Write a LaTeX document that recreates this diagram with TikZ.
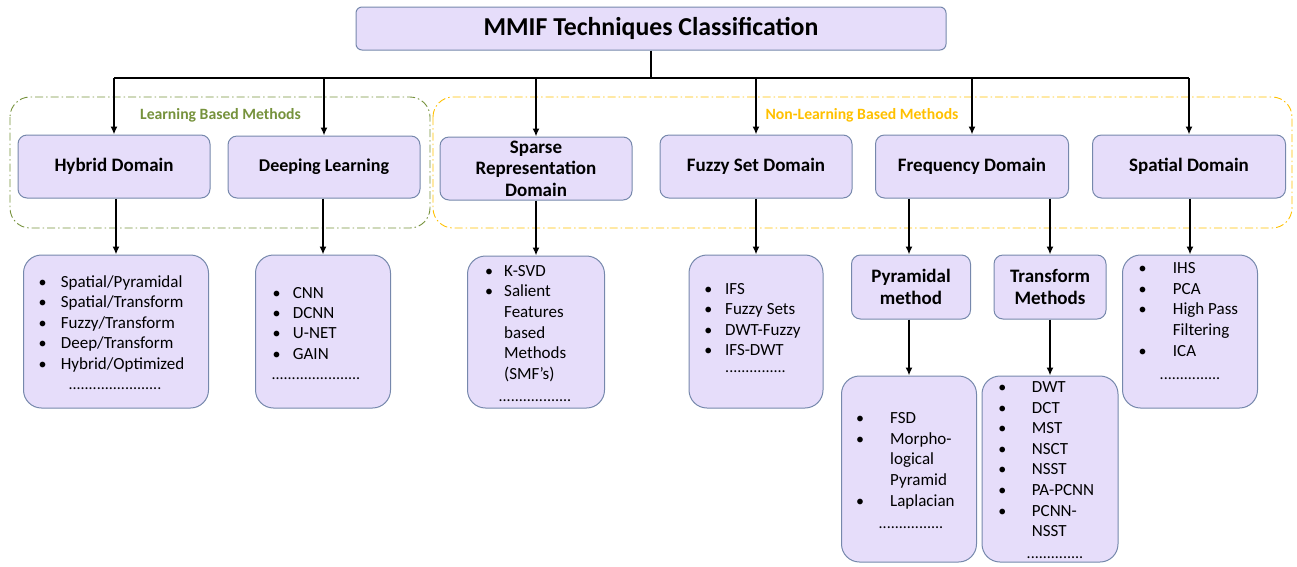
\documentclass[tikz,border=0pt]{standalone}
\usepackage{fontspec}
\setmainfont{Carlito}
\usetikzlibrary{arrows.meta}
\definecolor{boxfill}{RGB}{230,221,250}
\definecolor{boxline}{RGB}{118,136,172}
\definecolor{lgreen}{RGB}{118,146,60}
\definecolor{lyellow}{RGB}{255,192,0}
\begin{document}
\begin{tikzpicture}[x=1pt,y=-1pt,
  hdr/.style={draw=boxline, fill=boxfill, line width=1pt, rounded corners=9pt, font=\fontsize{19}{22}\selectfont\bfseries, align=center, inner sep=0pt},
  lbox/.style={draw=boxline, fill=boxfill, line width=1pt, rounded corners=18pt, inner sep=0pt},
  txt/.style={font=\fontsize{17}{19}\selectfont, anchor=base west, inner sep=0pt},
  bul/.style={font=\fontsize{16}{19}\selectfont, anchor=base, inner sep=0pt},
  dts/.style={font=\fontsize{16}{19}\selectfont, anchor=base, inner sep=0pt},
  arr/.style={line width=1.6pt, -{Latex[length=8pt,width=7pt]}},
  ln/.style={line width=1.6pt},
  grp/.style={line width=0.9pt, rounded corners=20pt, dash pattern=on 8pt off 3pt on 1.5pt off 3pt},
  glbl/.style={font=\fontsize{15.7}{18}\selectfont\bfseries, inner sep=0pt}
]
\useasboundingbox (0,0) rectangle (1297,566);

% title
\node[hdr, rounded corners=6pt, minimum width=590pt, minimum height=43pt, font=\fontsize{25.8}{30}\selectfont\bfseries] (title) at (651,28.5) {MMIF Techniques Classification};

% group frames
\draw[grp, lgreen] (10,97) rectangle (430,228);
\node[glbl, text=lgreen] (lgl) at (220.5,115) {Learning Based Methods};
\draw[grp, lyellow] (433,97) rectangle (1292,228);
\node[glbl, text=lyellow] (nlgl) at (862,115) {Non-Learning Based Methods};

% level 1
\node[hdr, minimum width=192pt, minimum height=63pt] (hyb) at (114,166.5) {Hybrid Domain};
\node[hdr, minimum width=192pt, minimum height=62pt, font=\fontsize{18}{22}\selectfont\bfseries] (deep) at (324,167) {Deeping Learning};
\node[hdr, minimum width=192pt, minimum height=63pt, font=\fontsize{19}{21.5}\selectfont\bfseries] (sparse) at (536,168.5) {Sparse\\Representation\\Domain};
\node[hdr, minimum width=192pt, minimum height=63pt] (fuzzy) at (756,166.5) {Fuzzy Set Domain};
\node[hdr, minimum width=193pt, minimum height=63pt] (freq) at (972,166.5) {Frequency Domain};
\node[hdr, minimum width=193pt, minimum height=63pt] (spat) at (1189,166.5) {Spatial Domain};

% level 2
\node[lbox, minimum width=185pt, minimum height=153pt] (hybL) at (116,331.5) {};
\node[lbox, minimum width=135pt, minimum height=153pt] (deepL) at (323,331.5) {};
\node[lbox, minimum width=137pt, minimum height=152pt] (sparseL) at (536,332) {};
\node[lbox, minimum width=134pt, minimum height=153pt] (fuzzyL) at (756,331.5) {};
\node[hdr, minimum width=119pt, minimum height=64pt] (pyr) at (911,287) {Pyramidal\\method};
\node[hdr, minimum width=112pt, minimum height=64pt] (trn) at (1050,287) {Transform\\Methods};
\node[lbox, minimum width=135pt, minimum height=153pt] (spatL) at (1190,331.5) {};
\node[lbox, minimum width=135pt, minimum height=186pt] (pyrL) at (909,469) {};
\node[lbox, minimum width=136pt, minimum height=186pt] (trnL) at (1050,469) {};

% connectors
\coordinate (j) at (651,78);
\draw[ln] (title.south) -- (j);
\draw[ln] (hyb.north |- j) -- (spat.north |- j);
\foreach \n in {hyb,deep,sparse,fuzzy,freq,spat} \draw[arr] (\n.north |- j) -- (\n.north);
\draw[arr] (hybL.north |- hyb.south) -- (hybL.north);
\draw[arr] (deepL.north |- deep.south) -- (deepL.north);
\draw[arr] (sparseL.north |- sparse.south) -- (sparseL.north);
\draw[arr] (fuzzyL.north |- fuzzy.south) -- (fuzzyL.north);
\draw[arr] (spatL.north |- spat.south) -- (spatL.north);
\draw[arr] (pyrL.north |- freq.south) -- (pyrL.north |- pyr.north);
\draw[arr] (trn.north |- freq.south) -- (trn.north);
\draw[arr] (pyrL.north |- pyr.south) -- (pyrL.north);
\draw[arr] (trnL.north |- trn.south) -- (trnL.north);

% Hybrid list
\foreach \i/\y/\t in {1/287/{Spatial/Pyramidal},2/307/{Spatial/Transform},3/328/{Fuzzy/Transform},4/348/{Deep/Transform},5/369/{Hybrid/Optimized}}{
  \node[bul] (hb\i) at (42.7,\y) {•};
  \node[txt] (ht\i) at (60.7,\y) {\t};
}
\node[dts] (hd) at (115,389) {.......................};

% Deep list
\foreach \i/\y/\t in {1/298/CNN,2/318/DCNN,3/338/U-NET,4/359/GAIN}{
  \node[bul] (db\i) at (276.7,\y) {•};
  \node[txt] (dt\i) at (292.7,\y) {\t};
}
\node[dts] (dd) at (316,379) {......................};

% Sparse list
\node[bul] (sb1) at (489,276) {•};
\node[txt] (st1) at (504,276) {K-SVD};
\node[bul] (sb2) at (489,296) {•};
\foreach \i/\y/\t in {2/296/Salient,3/317/Features,4/338/based,5/358/Methods,6/379/(SMF’s)}{
  \node[txt] (st\i) at (504,\y) {\t};
}
\node[dts] (sd) at (535,401) {..................};

% Fuzzy list
\foreach \i/\y/\t in {1/294/IFS,2/314.5/Fuzzy Sets,3/335/DWT-Fuzzy,4/355.5/IFS-DWT}{
  \node[bul] (fb\i) at (708.3,\y) {•};
  \node[txt] (ft\i) at (725,\y) {\t};
}
\node[dts] (fd) at (755.5,372) {...............};

% Spatial list
\node[bul] (pb1) at (1142.7,273) {•};
\node[bul] (pb2) at (1142.7,294) {•};
\node[bul] (pb3) at (1142.7,314) {•};
\node[bul] (pb4) at (1142.7,356) {•};
\foreach \i/\y/\t in {1/273/IHS,2/294/PCA,3/314/High Pass,4/335/Filtering,5/356/ICA}{
  \node[txt] (pt\i) at (1172.7,\y) {\t};
}
\node[dts] (pd) at (1190,379) {...............};

% Pyramidal list
\node[bul] (yb1) at (860,423) {•};
\node[bul] (yb2) at (860,444) {•};
\node[bul] (yb3) at (860,506) {•};
\foreach \i/\y/\t in {1/423/FSD,2/444/Morpho-,3/464/logical,4/485/Pyramid,5/506/Laplacian}{
  \node[txt] (yt\i) at (890,\y) {\t};
}
\node[dts] (yd) at (911,528) {................};

% Transform list
\foreach \i/\y in {1/392,2/413,3/433,4/454,5/474,6/495,7/516}{
  \node[bul] (tb\i) at (1002.3,\y) {•};
}
\foreach \i/\y/\t in {1/392/DWT,2/413/DCT,3/433/MST,4/454/NSCT,5/474/NSST,6/495/PA-PCNN,7/516/PCNN-,8/536/NSST}{
  \node[txt] (tt\i) at (1031.7,\y) {\t};
}
\node[dts] (td) at (1055,558) {..............};
\end{tikzpicture}
\end{document}
